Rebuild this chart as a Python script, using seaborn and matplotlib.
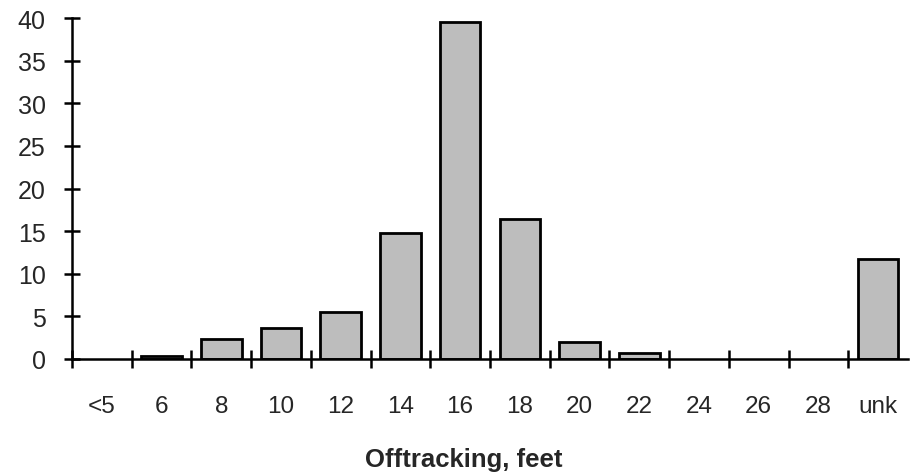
import matplotlib
matplotlib.use("Agg")
import matplotlib.pyplot as plt
import seaborn as sns
import pandas as pd

categories = ["<5", "6", "8", "10", "12", "14", "16", "18", "20", "22", "24", "26", "28", "unk"]
percent = [0.0, 0.3, 2.3, 3.6, 5.5, 14.8, 39.5, 16.4, 2.0, 0.7, 0.0, 0.0, 0.0, 11.7]
y_ticks = [0, 5, 10, 15, 20, 25, 30, 35, 40]

sns.set_style("white")
plt.rcParams['font.family'] = ['Liberation Sans', 'DejaVu Sans']

df = pd.DataFrame({"offtracking": categories, "percent": percent})

fig = plt.figure(figsize=(9.11, 4.77), dpi=100)
ax = fig.add_axes([0.079, 0.2453, 0.9177, 0.7147])

sns.barplot(data=df, x="offtracking", y="percent", order=categories,
            color="#bdbdbd", edgecolor="black", linewidth=2.0,
            width=0.68, saturation=1, ax=ax)

# empty categories: no outline sitting on the axis
for p in ax.patches:
    if p.get_height() == 0:
        p.set_linewidth(0)

ax.set_xlim(-0.5, len(categories) - 0.5)
ax.set_ylim(0, 40)
ax.set_yticks(y_ticks)

# tick marks at the category boundaries, labels at the centres
ax.set_xticks([i - 0.5 for i in range(len(categories))])
ax.set_xticklabels([])
ax.set_xticks(range(len(categories)), minor=True)
ax.set_xticklabels(categories, minor=True)
ax.tick_params(axis="x", which="major", bottom=True, direction="inout",
               length=13, width=1.8, color="black")
ax.tick_params(axis="x", which="minor", bottom=True, length=0, pad=26, labelsize=17.5)
ax.tick_params(axis="y", left=True, direction="inout", length=12, width=1.8,
               color="black", pad=13, labelsize=18)

for side in ["top", "right"]:
    ax.spines[side].set_visible(False)
for side in ["left", "bottom"]:
    ax.spines[side].set_color("black")
    ax.spines[side].set_linewidth(1.8)

ax.set_ylabel("")
ax.set_xlabel("")
fig.text(464 / 911, 1 - 460 / 477, "Offtracking, feet", ha="center", va="center",
         fontsize=18.5, fontweight="bold")

fig.savefig("out.png", dpi=100)
